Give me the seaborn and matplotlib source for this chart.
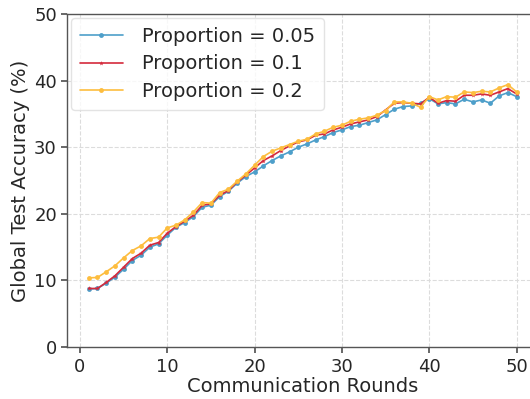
import numpy as np
import pandas as pd
import matplotlib
matplotlib.use("Agg")
import matplotlib.pyplot as plt
import seaborn as sns

sns.set_theme(style="white")
plt.rcParams['font.family'] = ['DejaVu Sans']

rounds = list(range(1, 51))

acc_005 = [8.7, 8.8, 9.6, 10.5, 11.7, 13.0, 13.8, 15.0, 15.5, 16.8,
           18.0, 18.7, 19.6, 21.0, 21.3, 22.6, 23.4, 24.6, 25.6, 26.3,
           27.2, 28.0, 28.7, 29.3, 30.0, 30.5, 31.1, 31.6, 32.2, 32.6,
           33.1, 33.3, 33.7, 34.1, 34.9, 35.7, 36.1, 36.2, 36.6, 37.3,
           36.5, 36.7, 36.5, 37.2, 36.8, 37.1, 36.6, 37.7, 38.2, 37.6]
acc_01 = [8.8, 8.8, 9.7, 10.7, 12.0, 13.3, 14.1, 15.3, 15.7, 17.1,
          18.1, 18.9, 19.8, 21.3, 21.5, 22.8, 23.5, 24.8, 25.8, 26.9,
          28.0, 28.7, 29.5, 30.2, 30.8, 31.1, 31.8, 32.0, 32.6, 33.0,
          33.5, 33.8, 34.1, 34.6, 35.6, 36.6, 36.7, 36.6, 36.5, 37.5,
          36.6, 37.0, 36.9, 37.8, 37.8, 38.0, 37.8, 38.3, 38.8, 38.0]
acc_02 = [10.4, 10.45, 11.3, 12.2, 13.4, 14.5, 15.2, 16.3, 16.5, 17.9,
          18.3, 19.1, 20.3, 21.7, 21.6, 23.2, 23.7, 24.9, 26.0, 27.3,
          28.6, 29.4, 29.9, 30.4, 30.9, 31.2, 32.0, 32.4, 33.0, 33.3,
          33.9, 34.2, 34.4, 34.8, 35.5, 36.8, 36.8, 36.6, 36.0, 37.6,
          37.1, 37.6, 37.5, 38.3, 38.2, 38.4, 38.3, 38.9, 39.4, 38.3]

labels = ["Proportion = 0.05", "Proportion = 0.1", "Proportion = 0.2"]
colors = ["#4e9fca", "#d42a3c", "#fdbd3e"]
markers = ["o", "*", "o"]

df = pd.DataFrame({
    "Round": rounds * 3,
    "Accuracy": acc_005 + acc_01 + acc_02,
    "Series": [labels[0]] * 50 + [labels[1]] * 50 + [labels[2]] * 50,
})

fig = plt.figure(figsize=(5.3, 3.99), dpi=100)
ax = fig.add_axes([0.127, 0.130, 0.888, 0.835])

for lab, c, m in zip(labels, colors, markers):
    sub = df[df["Series"] == lab]
    sns.lineplot(data=sub, x="Round", y="Accuracy", ax=ax, color=c, marker=m,
                 markersize=3.5, markeredgewidth=0, linewidth=1.2, label=lab)

ax.set_ylim(0, 50)
ax.set_xticks([0, 10, 20, 30, 40, 50])
ax.set_yticks([0, 10, 20, 30, 40, 50])
ax.tick_params(axis="both", labelsize=13, length=4, color="#555555", left=True, bottom=True)
ax.set_xlabel("Communication Rounds", fontsize=14, labelpad=1)
ax.set_ylabel("Global Test Accuracy (%)", fontsize=14, labelpad=3)
ax.grid(True, linestyle="--", color="#dcdcdc", linewidth=0.8)
for s in ax.spines.values():
    s.set_color("#555555")
    s.set_linewidth(1.0)

leg = ax.legend(loc="upper left", fontsize=14, frameon=True, handlelength=2.2,
                borderpad=0.45, labelspacing=0.45, handletextpad=1.0,
                borderaxespad=0.2)
leg.get_frame().set_edgecolor("#dddddd")

fig.savefig("out.png", dpi=100)
